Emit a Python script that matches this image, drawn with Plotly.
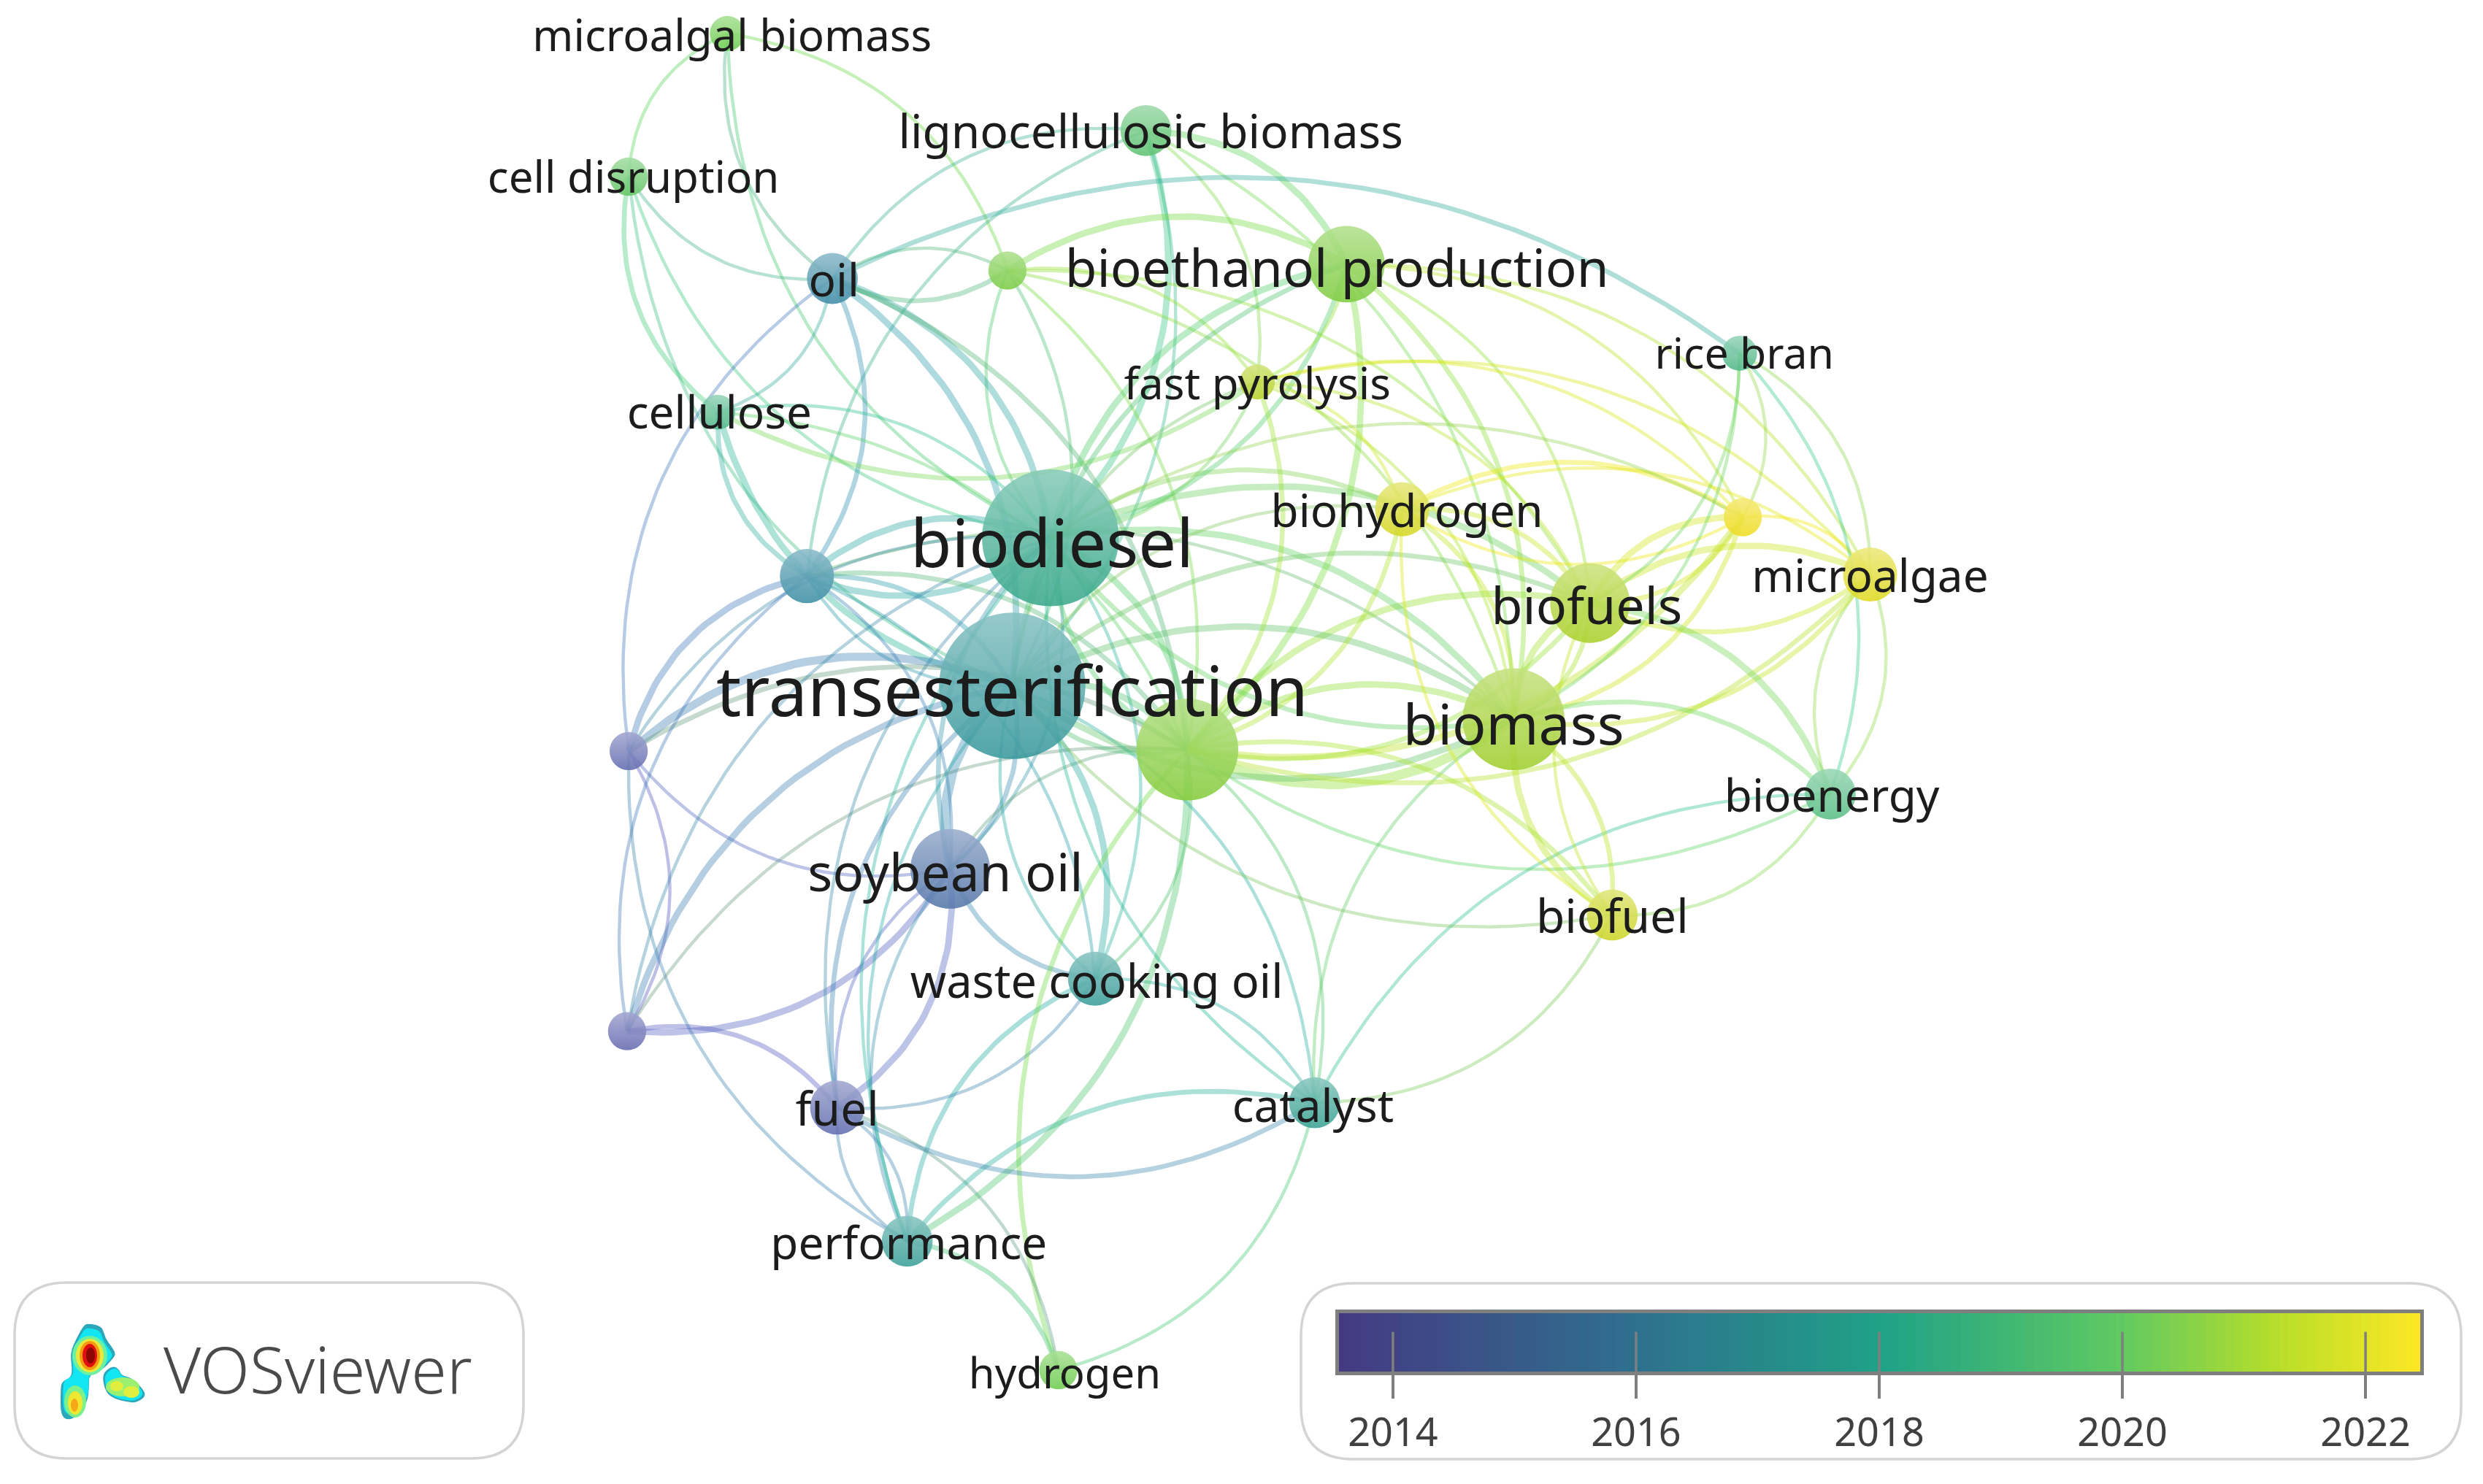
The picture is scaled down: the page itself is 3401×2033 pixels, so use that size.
import numpy as np
import plotly.graph_objects as go

W, H = 3401, 2033
S = 2.18

# nodes
node_ids = ["mb", "lb", "cd", "oil", "g1", "be", "fp", "rb", "ce", "bd", "bh", "y1", "ma", "t1",
            "bfs", "te", "bm", "g2", "p1", "bn", "so", "bf", "wc", "p2", "fu", "ca", "pe", "hy"]
node_x = [457, 720, 395, 523, 633, 846, 790, 1093, 451, 660, 881, 1095, 1175, 507,
          999, 636, 951, 746, 395, 1150, 597, 1013, 688, 394, 526, 826, 570, 665]
node_y = [21, 82, 111, 175, 170, 166, 240, 222, 259, 338, 320, 325, 361, 362,
          379, 431, 452, 471, 472, 499, 546, 575, 615, 648, 696, 693, 780, 861]
node_r = [11, 16, 12, 16, 12, 24, 11, 11, 11, 43, 17, 12, 17, 17,
          25, 46, 32, 32, 12, 16, 25, 16, 17, 12, 17, 16, 16, 12]
node_year = [2020.0, 2019.4, 2019.6, 2016.3, 2020.2, 2020.3, 2021.3, 2018.8, 2018.8, 2018.0, 2021.9, 2022.4, 2022.1, 2016.4,
             2021.1, 2017.0, 2020.9, 2020.4, 2014.2, 2019.1, 2015.0, 2021.7, 2017.2, 2014.1, 2014.3, 2017.6, 2017.3, 2020.0]

# labels
label_text = ["microalgal biomass", "lignocellulosic biomass", "cell disruption", "oil", "bioethanol production",
              "fast pyrolysis", "rice bran", "cellulose", "biodiesel", "biohydrogen", "microalgae", "biofuels",
              "transesterification", "biomass", "bioenergy", "soybean oil", "biofuel", "waste cooking oil",
              "fuel", "catalyst", "performance", "hydrogen"]
label_x = [460, 723, 398, 524, 840, 790, 1096, 452, 661, 884, 1175, 997, 636, 951, 1151, 594, 1013, 689, 526, 825, 571, 669]
label_y = [25, 86, 114, 179, 172, 244, 225, 262, 346, 324, 365, 384, 439, 459, 503, 552, 579, 620, 700, 698, 784, 866]
label_size = [60, 64, 60, 62, 71, 60, 59, 62, 92, 62, 62, 70, 95, 77, 62, 71, 64, 63, 64, 62, 62, 58]

# links: from, to, weight (curve bows to the left of from -> to)
edges = [
    ("cd", "mb", 1), ("mb", "g1", 1), ("bd", "mb", 1), ("oil", "mb", 1), ("oil", "cd", 1), ("ce", "cd", 2),
    ("bd", "cd", 1), ("te", "cd", 1), ("oil", "lb", 1), ("t1", "lb", 1), ("lb", "bd", 3), ("lb", "te", 1),
    ("lb", "be", 3), ("lb", "fp", 1), ("lb", "bm", 1), ("g1", "oil", 2), ("oil", "g1", 1), ("oil", "rb", 2),
    ("rb", "ma", 1), ("g1", "be", 3), ("bd", "g1", 1), ("g1", "te", 1), ("g1", "g2", 1), ("g1", "bm", 1),
    ("g1", "fp", 1), ("g1", "bfs", 1), ("oil", "ce", 1), ("oil", "bd", 3), ("oil", "te", 3), ("oil", "t1", 2),
    ("p1", "oil", 1), ("oil", "g2", 2), ("fp", "ce", 2), ("ce", "bd", 1), ("te", "ce", 3), ("t1", "ce", 2),
    ("ce", "g2", 1), ("p1", "t1", 3), ("t1", "bd", 3), ("bd", "t1", 3), ("t1", "te", 2), ("te", "t1", 1),
    ("t1", "g2", 2), ("t1", "bm", 1), ("t1", "wc", 1), ("t1", "so", 1), ("p1", "te", 4), ("p1", "bd", 1),
    ("so", "p1", 1), ("p1", "p2", 1), ("p1", "g2", 2),
    ("pe", "p1", 1), ("p2", "te", 3), ("so", "p2", 3), ("p2", "fu", 2), ("p2", "g2", 1), ("p2", "t1", 1),
    ("p2", "bd", 1), ("so", "te", 5), ("te", "so", 2), ("bd", "so", 1), ("so", "g2", 1), ("so", "bd", 2),
    ("wc", "so", 2), ("so", "fu", 3), ("fu", "so", 1), ("te", "wc", 3), ("wc", "te", 1), ("bd", "wc", 1),
    ("g2", "wc", 1), ("wc", "ca", 1), ("pe", "wc", 2), ("wc", "fu", 1), ("hy", "g2", 2), ("ca", "hy", 1),
    ("pe", "hy", 2), ("fu", "hy", 1), ("pe", "ca", 2), ("g2", "pe", 3), ("pe", "so", 1), ("pe", "te", 1), ("pe", "fu", 1),
    ("fu", "pe", 1), ("pe", "bd", 1), ("ca", "fu", 2), ("fu", "te", 2), ("fu", "bd", 1), ("te", "ca", 1),
    ("ca", "bd", 1), ("ca", "bm", 1), ("ca", "bn", 1), ("bf", "ca", 1), ("g2", "ca", 1), ("bn", "g2", 1),
    ("bm", "bfs", 3), ("bfs", "bm", 2), ("bm", "g2", 5), ("g2", "bm", 3), ("g2", "bfs", 3), ("bfs", "g2", 2),
    ("bd", "bm", 3), ("bm", "bd", 2), ("te", "bm", 3), ("bm", "te", 3), ("te", "g2", 3), ("g2", "te", 2),
    ("bd", "g2", 3), ("g2", "bd", 2), ("bd", "bfs", 3), ("te", "bfs", 2), ("bd", "bh", 2), ("bd", "be", 3),
    ("be", "bd", 2), ("te", "be", 2), ("be", "bfs", 1), ("be", "bm", 2), ("be", "g2", 3), ("be", "fp", 1),
    ("be", "ma", 1), ("be", "y1", 1), ("fp", "bm", 1), ("fp", "bh", 1), ("fp", "bfs", 1), ("fp", "y1", 1),
    ("fp", "ma", 1), ("fp", "g2", 2), ("fp", "bd", 1), ("te", "fp", 1), ("bh", "bfs", 2), ("bh", "bm", 2),
    ("bh", "y1", 2), ("y1", "bh", 1), ("bh", "ma", 1), ("bh", "g2", 2), ("bd", "y1", 1), ("te", "bh", 1),
    ("bfs", "y1", 3), ("y1", "bfs", 2), ("y1", "bm", 2), ("y1", "g2", 3), ("y1", "ma", 1), ("bfs", "ma", 3),
    ("ma", "bfs", 2), ("ma", "bn", 1), ("bn", "ma", 1), ("ma", "bm", 2), ("ma", "g2", 2), ("rb", "y1", 1),
    ("rb", "bfs", 1), ("rb", "bm", 1), ("rb", "bn", 1), ("bfs", "bn", 3), ("bm", "bn", 2), ("bn", "bf", 1),
    ("bf", "bm", 3), ("bm", "bf", 2), ("bf", "bfs", 1), ("g2", "bf", 2), ("bf", "bh", 1), ("bf", "te", 1),
]
bend = 0.3

# colour legend
tick_years = [2014, 2016, 2018, 2020, 2022]
year_min, year_max = 2013.556, 2022.45
stops = [(0.0, "#443a83"), (0.27, "#2f6f8e"), (0.5, "#1fa187"), (0.72, "#5ec962"), (0.87, "#b8de29"), (1.0, "#fde725")]
# the nodes and links sit lighter and more saturated than the legend
node_stops = [(0.0, "#6f63b5"), (0.17, "#5478aa"), (0.33, "#3d8fa5"), (0.39, "#3a9a9c"), (0.5, "#3aa88c"),
              (0.62, "#58bc88"), (0.72, "#6ccc50"), (0.8, "#94cc30"), (0.9, "#c4d428"), (1.0, "#f0dc20")]
edge_stops = [(0.0, "#5948c2"), (0.17, "#4a70c0"), (0.33, "#2a95b0"), (0.45, "#1fb59a"), (0.62, "#34cc88"),
              (0.72, "#5ed84a"), (0.87, "#b8e61e"), (1.0, "#ffe800")]


def to_rgb(h):
    return np.array([int(h[i:i + 2], 16) for i in (1, 3, 5)], dtype=float)


def year_rgb(year, table):
    t = (year - year_min) / (year_max - year_min)
    pos = [s[0] for s in table]
    return np.array([np.interp(t, pos, [to_rgb(s[1])[c] for s in table]) for c in range(3)])


def css(rgb, a=1.0):
    return f"rgba({rgb[0]:.0f},{rgb[1]:.0f},{rgb[2]:.0f},{a})"


def round_rect(x0, y0, x1, y1, r):
    return (f"M{x0 + r},{y0} L{x1 - r},{y0} Q{x1},{y0} {x1},{y0 + r} L{x1},{y1 - r} Q{x1},{y1} {x1 - r},{y1} "
            f"L{x0 + r},{y1} Q{x0},{y1} {x0},{y1 - r} L{x0},{y0 + r} Q{x0},{y0} {x0 + r},{y0} Z")


def smooth_path(pts, f=1.0):
    # closed smooth outline through the midpoints, f shrinks it about its centre
    p = np.array(pts, dtype=float)
    c = p.mean(axis=0)
    p = c + (p - c) * f
    mid = (p + np.roll(p, -1, axis=0)) / 2
    d = f"M{mid[-1][0]:.1f},{mid[-1][1]:.1f} "
    for a, b in zip(p, mid):
        d += f"Q{a[0]:.1f},{a[1]:.1f} {b[0]:.1f},{b[1]:.1f} "
    return d + "Z"


fig = go.Figure()

idx = {n: i for i, n in enumerate(node_ids)}
px = np.array(node_x) * S
py = np.array(node_y) * S

# links, drawn first so they show through the nodes
t = np.linspace(0, 1, 36)
for a, b, w in edges:
    i, j = idx[a], idx[b]
    dx, dy = px[j] - px[i], py[j] - py[i]
    cx = (px[i] + px[j]) / 2 + bend * dy
    cy = (py[i] + py[j]) / 2 - bend * dx
    xs = (1 - t) ** 2 * px[i] + 2 * t * (1 - t) * cx + t ** 2 * px[j]
    ys = (1 - t) ** 2 * py[i] + 2 * t * (1 - t) * cy + t ** 2 * py[j]
    col = (year_rgb(node_year[i], edge_stops) + year_rgb(node_year[j], edge_stops)) / 2
    fig.add_trace(go.Scatter(x=xs, y=ys, mode="lines", hoverinfo="skip", showlegend=False,
                             line=dict(color=css(col, 0.38), width=2.2 + w * 2.2)))

# nodes, lighter at the top
base = [year_rgb(y, node_stops) for y in node_year]
fig.add_trace(go.Scatter(
    x=px, y=py, mode="markers", showlegend=False, hoverinfo="skip",
    marker=dict(size=[r * 2 * S for r in node_r], color=[css(c * 0.6 + 255 * 0.4) for c in base], opacity=0.88,
                line=dict(width=0), gradient=dict(type="vertical", color=[css(c) for c in base]))))

# labels
fig.add_trace(go.Scatter(
    x=np.array(label_x) * S, y=np.array(label_y) * S, mode="text", text=label_text, showlegend=False, hoverinfo="skip",
    textposition="middle center", textfont=dict(family="Noto Sans", size=label_size, color="#1c1c1c")))

# colour bar on its own axes
bar_years = np.linspace(year_min, year_max, 120)
fig.add_trace(go.Heatmap(x=bar_years, y=[0.5], z=[bar_years], xaxis="x2", yaxis="y2", zmin=year_min, zmax=year_max,
                         colorscale=[[s[0], s[1]] for s in stops], showscale=False, hoverinfo="skip"))
tick_x, tick_y = [], []
for y in tick_years:
    tick_x += [y, y, None]
    tick_y += [0, 0.68, None]
fig.add_trace(go.Scatter(x=tick_x, y=tick_y, xaxis="x2", yaxis="y2", mode="lines", showlegend=False, hoverinfo="skip",
                         line=dict(color="#7f7f7f", width=3.5)))

# logo
upper_blob = [(122, 1813), (140, 1817), (144, 1833), (153, 1845), (159, 1855), (153, 1863), (140, 1877), (122, 1883),
              (122, 1900), (120, 1920), (107, 1940), (92, 1946), (83, 1938), (83, 1907), (84, 1893), (97, 1887),
              (99, 1877), (96, 1853), (105, 1833), (115, 1815)]
right_blob = [(156, 1871), (164, 1877), (166, 1884), (181, 1888), (196, 1903), (200, 1913), (186, 1922), (173, 1920),
              (158, 1917), (145, 1908), (140, 1887), (145, 1877)]
shapes = [
    dict(type="path", path=round_rect(20, 1757, 717, 1998, 72), line=dict(color="#d4d4d4", width=3.5), layer="below"),
    dict(type="path", path=round_rect(1782, 1758, 3371, 1999, 72), line=dict(color="#d4d4d4", width=3.5), layer="below"),
]
for pts in (upper_blob, right_blob):
    shapes.append(dict(type="path", path=smooth_path(pts), fillcolor="#2aa7bb", line=dict(width=0)))
    shapes.append(dict(type="path", path=smooth_path(pts, 0.9), fillcolor="#12e6f2", line=dict(width=0)))
spots = [
    (123, 1857, 24, 27, "#6df0a0"), (123, 1857, 19, 23, "#e8ea3a"), (123, 1857, 14, 20, "#f59a10"),
    (123, 1857, 10, 16, "#e01010"), (124, 1857, 6, 11, "#8a0505"),
    (103, 1920, 15, 22, "#7cf08a"), (103, 1922, 10, 16, "#f0e830"), (102, 1925, 5, 9, "#f5a818"),
    (168, 1900, 23, 13, "#9cf070"), (180, 1907, 11, 8, "#e0ee40"), (160, 1899, 9, 7, "#e0ee40"),
]
for cx, cy, rx, ry, col in spots:
    shapes.append(dict(type="circle", x0=cx - rx, x1=cx + rx, y0=cy - ry, y1=cy + ry, fillcolor=col, line=dict(width=0)))

fig.update_layout(
    width=W, height=H, margin=dict(l=0, r=0, t=0, b=0), paper_bgcolor="white", plot_bgcolor="white",
    showlegend=False, shapes=shapes,
    xaxis=dict(range=[0, W], domain=[0, 1], visible=False, fixedrange=True),
    yaxis=dict(range=[H, 0], domain=[0, 1], visible=False, fixedrange=True),
    xaxis2=dict(domain=[1834 / W, 3315 / W], range=[year_min, year_max], anchor="y2", tickmode="array",
                tickvals=tick_years, ticks="outside", ticklen=32, tickwidth=3.5, tickcolor="#7f7f7f",
                showline=True, mirror=True, linecolor="#7f7f7f", linewidth=5, showgrid=False, zeroline=False,
                tickfont=dict(family="Noto Sans", size=54, color="#404040")),
    yaxis2=dict(domain=[1 - 1879 / H, 1 - 1799 / H], range=[0, 1], anchor="x2", showticklabels=False, ticks="",
                showline=True, mirror=True, linecolor="#7f7f7f", linewidth=5, showgrid=False, zeroline=False),
    annotations=[dict(x=222, y=1875, xref="x", yref="y", text="VOSviewer", showarrow=False, xanchor="left",
                      font=dict(family="Noto Sans", size=88, color="#4a4a4a", weight=300))],
)

fig.write_html("out.html", config=dict(displayModeBar=False), post_script="document.body.style.margin='0';")
